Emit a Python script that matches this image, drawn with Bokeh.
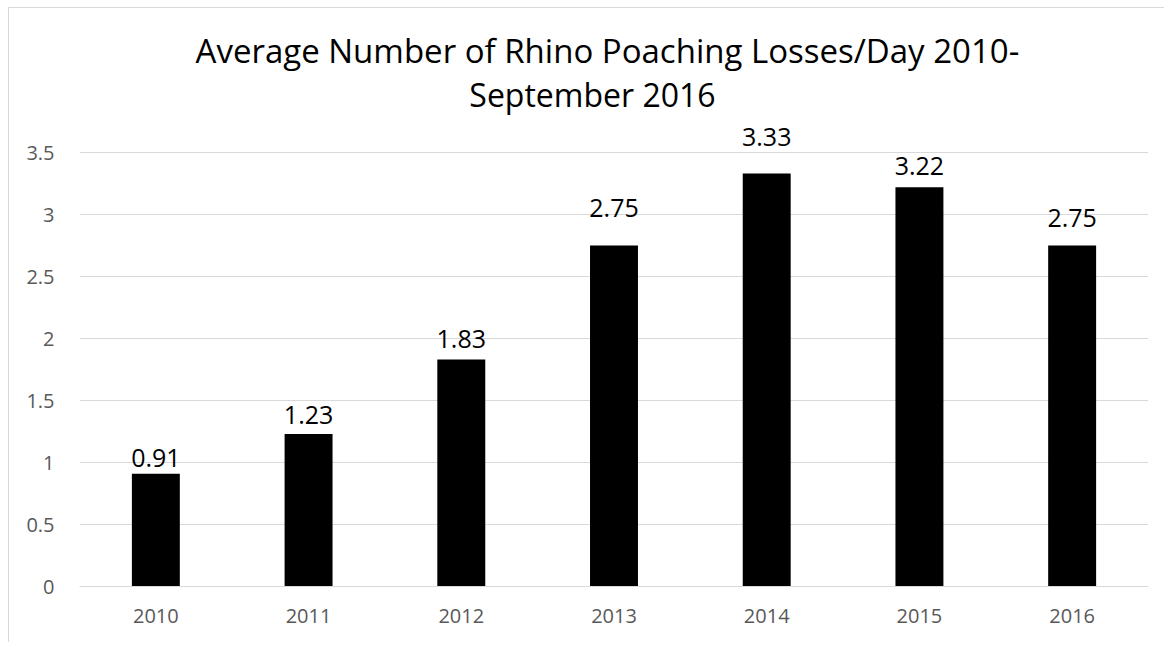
from bokeh.plotting import figure
from bokeh.models import ColumnDataSource, LabelSet, Label, FactorRange, Range1d, FixedTicker, CustomJSTickFormatter
from bokeh.core.properties import value
from bokeh.embed import file_html
from bokeh.resources import INLINE

# ---- data ----
years = ["2010", "2011", "2012", "2013", "2014", "2015", "2016"]
losses_per_day = [0.91, 1.23, 1.83, 2.75, 3.33, 3.22, 2.75]
y_ticks = [0, 0.5, 1, 1.5, 2, 2.5, 3, 3.5]
title_lines = ["Average Number of Rhino Poaching Losses/Day 2010-", "September 2016"]

# ---- styles ----
label_gaps = [7, 10, 12, 29, 28, 12, 19]   # px between bar top and label baseline
FONT = "Open Sans"
GRID = "#d9d9d9"
TICK_COLOR = "#595959"
PX_PER_UNIT = 124.0
FRAME_H = 578
Y_TOP = FRAME_H / PX_PER_UNIT   # frame extends up to the top of the chart area

source = ColumnDataSource(dict(
    year=years,
    value=losses_per_day,
    text=[f"{v:.2f}" for v in losses_per_day],
    gap=label_gaps,
))

p = figure(
    width=1156, height=635,
    x_range=FactorRange(*years),
    y_range=Range1d(0, Y_TOP),
    output_backend="svg", toolbar_location=None,
    min_border_left=70, min_border_right=17,
    min_border_top=0, min_border_bottom=57,
    title=None,
)
p.styles = {
    "margin-left": "8px", "margin-top": "7px",
    "border-top": f"1px solid {GRID}", "border-left": f"1px solid {GRID}",
}
p.outline_line_color = None
p.background_fill_color = "white"
p.border_fill_color = "white"

p.vbar(x="year", top="value", width=0.314, source=source,
       fill_color="black", line_color=None)

labels = LabelSet(x="year", y="value", text="text", y_offset="gap", source=source,
                  text_align="center", text_baseline="alphabetic",
                  text_font=value(FONT), text_font_size="25px", text_color="black")
p.add_layout(labels)

# title (two centred lines)
t1 = Label(x=3.457, y=4.323, text=title_lines[0], text_align="center",
           text_baseline="alphabetic", text_font=FONT,
           text_font_size="33px", text_color="black")
t2 = Label(x=3.359, y=3.968, text=title_lines[1], text_align="center",
           text_baseline="alphabetic", text_font=FONT,
           text_font_size="32px", text_color="black")
p.add_layout(t1)
p.add_layout(t2)

# axes
p.yaxis.ticker = FixedTicker(ticks=y_ticks)
p.yaxis.formatter = CustomJSTickFormatter(code="return tick.toString();")
p.yaxis.axis_line_color = None
p.yaxis.major_tick_line_color = None
p.yaxis.minor_tick_line_color = None
p.yaxis.major_label_standoff = 19
p.yaxis.major_label_text_font = FONT
p.yaxis.major_label_text_font_size = "20px"
p.yaxis.major_label_text_color = TICK_COLOR

p.xaxis.axis_line_color = GRID
p.xaxis.axis_line_width = 1
p.xaxis.major_tick_line_color = None
p.xaxis.minor_tick_line_color = None
p.xaxis.major_label_standoff = 16
p.xaxis.major_label_text_font = FONT
p.xaxis.major_label_text_font_size = "20px"
p.xaxis.major_label_text_color = TICK_COLOR

p.xgrid.grid_line_color = None
p.ygrid.grid_line_color = GRID
p.ygrid.grid_line_width = 1

open("out.html", "w").write(file_html(p, INLINE))
